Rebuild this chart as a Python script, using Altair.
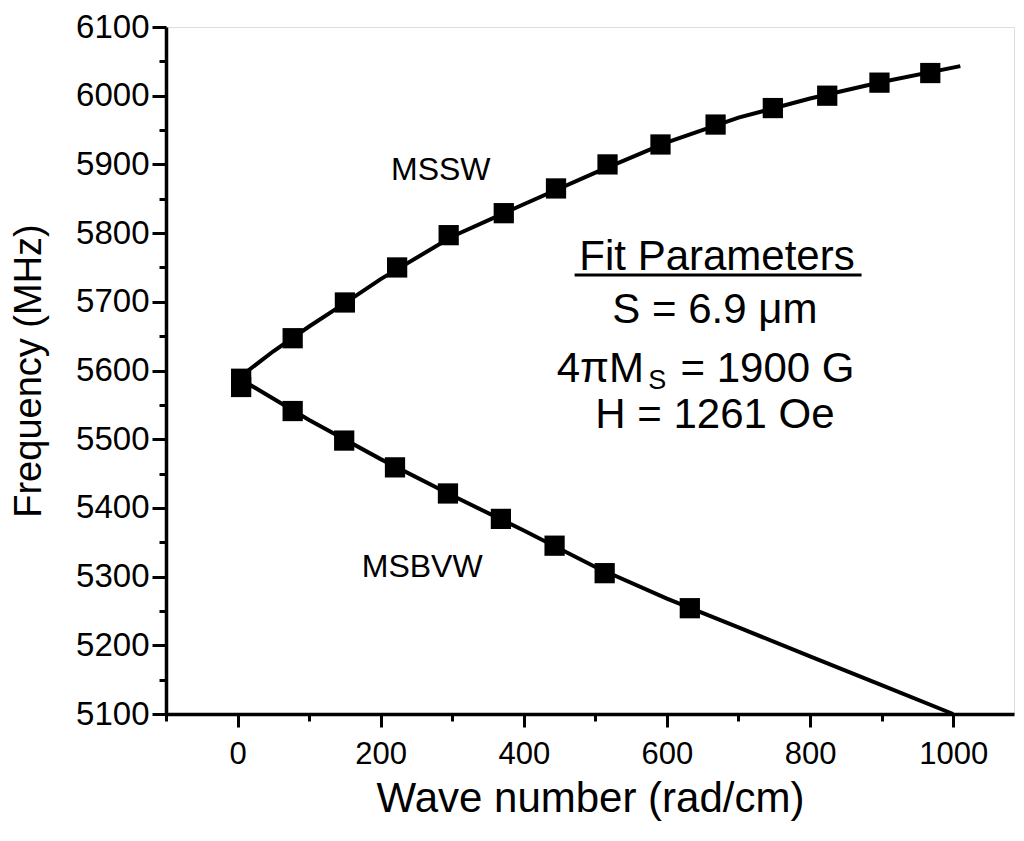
import altair as alt
import pandas as pd

# ---- data ----
mssw_k = [5, 77, 150, 223, 295, 372, 445, 517, 591, 668, 748, 824, 897, 968]
mssw_f = [5588, 5647, 5699, 5750, 5797, 5829, 5865, 5900, 5929, 5958, 5982, 6000, 6019, 6033]

msbvw_k = [5, 77, 149, 220, 294, 368, 443, 513, 632]
msbvw_f = [5576, 5541, 5498, 5459, 5421, 5384, 5345, 5305, 5254]

fit_mssw_k = [0, 50, 100, 150, 200, 300, 400, 500, 600, 700, 800, 900, 1010]
fit_mssw_f = [5588, 5628, 5664, 5698, 5733, 5795, 5842, 5888, 5932, 5968, 5996, 6020, 6043]

fit_msbvw_k = [0, 100, 200, 300, 400, 500, 600, 700, 800, 900, 1000]
fit_msbvw_f = [5590, 5528, 5471, 5418, 5367, 5314, 5268, 5226, 5184, 5142, 5100]

x_major = [0, 200, 400, 600, 800, 1000]
x_minor = [-100, 100, 300, 500, 700, 900]
y_major = [5100, 5200, 5300, 5400, 5500, 5600, 5700, 5800, 5900, 6000, 6100]
y_minor = [5150, 5250, 5350, 5450, 5550, 5650, 5750, 5850, 5950, 6050]

branch_text = ["MSSW", "MSBVW"]
branch_k = [284, 258]
branch_f = [5878, 5299]

param_text = ["Fit Parameters", "S = 6.9 \u03bcm", "H = 1261 Oe"]
param_k = [670, 667, 667]
param_f = [5747, 5669, 5517]

ms_main_text = ["4\u03c0M", "= 1900 G"]
ms_main_k = [568, 619]
ms_main_align = ["right", "left"]
ms_main_f = [5583, 5583]
ms_sub_text = ["S"]
ms_sub_k = [574]
ms_sub_f = [5573]

underline_k = [471]
underline_k2 = [872]
underline_f = [5739]

FONT = "Liberation Sans"
W, H = 848, 687

pts = pd.DataFrame({
    "k": mssw_k + msbvw_k,
    "f": mssw_f + msbvw_f,
    "branch": ["MSSW"] * len(mssw_k) + ["MSBVW"] * len(msbvw_k),
})
fit = pd.DataFrame({
    "k": fit_mssw_k + fit_msbvw_k,
    "f": fit_mssw_f + fit_msbvw_f,
    "branch": ["MSSW"] * len(fit_mssw_k) + ["MSBVW"] * len(fit_msbvw_k),
})
branch_df = pd.DataFrame({"text": branch_text, "k": branch_k, "f": branch_f})
param_df = pd.DataFrame({"text": param_text, "k": param_k, "f": param_f})
ms_main_df = pd.DataFrame({"text": ms_main_text, "k": ms_main_k, "f": ms_main_f, "align": ms_main_align})
ms_sub_df = pd.DataFrame({"text": ms_sub_text, "k": ms_sub_k, "f": ms_sub_f})
ul_df = pd.DataFrame({"k": underline_k, "k2": underline_k2, "f": underline_f})

xscale = alt.Scale(domain=[-100, 1085], nice=False, zero=False)
yscale = alt.Scale(domain=[5100, 6100], nice=False, zero=False)

xaxis = alt.Axis(values=x_major, format="d", tickSize=13, tickWidth=3, tickColor="black",
                 domainWidth=3.5, domainColor="black", grid=False,
                 labelFont=FONT, labelFontSize=31, labelColor="black", labelPadding=12,
                 labelFlush=False,
                 title="Wave number (rad/cm)", titleFont=FONT, titleFontSize=42,
                 titleFontWeight="normal", titleColor="black", titlePadding=9)
yaxis = alt.Axis(values=y_major, format="d", tickSize=14, tickWidth=3, tickColor="black",
                 domainWidth=3.5, domainColor="black", grid=False,
                 labelFont=FONT, labelFontSize=33, labelColor="black", labelPadding=3,
                 labelFlush=False,
                 title="Frequency (MHz)", titleFont=FONT, titleFontSize=38,
                 titleFontWeight="normal", titleColor="black", titlePadding=27)

X = alt.X("k:Q", scale=xscale, axis=xaxis)
Y = alt.Y("f:Q", scale=yscale, axis=yaxis)

lines = alt.Chart(fit).mark_line(color="black", strokeWidth=4, clip=False).encode(
    x=X, y=Y, detail="branch:N", order="k:Q")
points = alt.Chart(pts).mark_square(color="black", size=410, opacity=1).encode(x=X, y=Y)

branch_lbl = alt.Chart(branch_df).mark_text(font=FONT, fontSize=32, color="black",
                                            align="center", baseline="alphabetic").encode(
    x=alt.X("k:Q", scale=xscale), y=alt.Y("f:Q", scale=yscale), text="text:N")
param_lbl = alt.Chart(param_df).mark_text(font=FONT, fontSize=42, color="black",
                                          align="center", baseline="alphabetic").encode(
    x=alt.X("k:Q", scale=xscale), y=alt.Y("f:Q", scale=yscale), text="text:N")
ms_main_r = alt.Chart(ms_main_df[ms_main_df["align"] == "right"]).mark_text(
    font=FONT, fontSize=42, color="black", align="right", baseline="alphabetic").encode(
    x=alt.X("k:Q", scale=xscale), y=alt.Y("f:Q", scale=yscale), text="text:N")
ms_main_l = alt.Chart(ms_main_df[ms_main_df["align"] == "left"]).mark_text(
    font=FONT, fontSize=42, color="black", align="left", baseline="alphabetic").encode(
    x=alt.X("k:Q", scale=xscale), y=alt.Y("f:Q", scale=yscale), text="text:N")
ms_sub = alt.Chart(ms_sub_df).mark_text(font=FONT, fontSize=27, color="black",
                                        align="left", baseline="alphabetic").encode(
    x=alt.X("k:Q", scale=xscale), y=alt.Y("f:Q", scale=yscale), text="text:N")
underline = alt.Chart(ul_df).mark_rule(color="black", strokeWidth=3).encode(
    x=alt.X("k:Q", scale=xscale), x2="k2:Q", y=alt.Y("f:Q", scale=yscale))

main = alt.layer(lines, points, branch_lbl, param_lbl, ms_main_r, ms_main_l, ms_sub, underline)

minor = alt.Chart(pts).mark_point(opacity=0).encode(
    x=alt.X("k:Q", scale=xscale,
            axis=alt.Axis(values=x_minor, orient="bottom", tickSize=7, tickWidth=3,
                          tickColor="black", labels=False, domain=False, grid=False, title="")),
    y=alt.Y("f:Q", scale=yscale,
            axis=alt.Axis(values=y_minor, orient="left", tickSize=7, tickWidth=3,
                          tickColor="black", labels=False, domain=False, grid=False, title="")),
)

chart = alt.layer(main, minor).resolve_scale(x="independent", y="independent").properties(
    width=W, height=H,
    autosize=alt.AutoSizeParams(type="none"),
    padding={"left": 158, "top": 19, "right": 2, "bottom": 120},
).configure_view(stroke=None).configure(background="white")

chart.save("out.html", embed_options={"renderer": "svg", "actions": False})
